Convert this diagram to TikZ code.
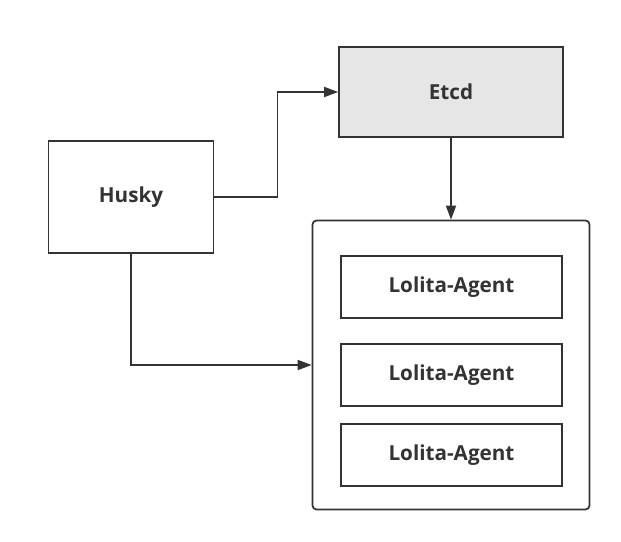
\documentclass[tikz,border=0pt]{standalone}
\usepackage{fontspec}
\setmainfont{Open Sans}
\usetikzlibrary{arrows.meta}
\definecolor{ink}{HTML}{333333}
\definecolor{etcdgray}{HTML}{E6E6E6}
\newcommand{\drawagents}[1] {
    \foreach \n/\y in #1 {
      \node[box, lbl, minimum width=165.75pt, minimum height=46.5pt] (agent\n) at (451.5,\y) {Lolita-Agent};
    }
}

\begin{document}
\begin{tikzpicture}[x=0.75pt, y=-0.75pt, line width=1.3pt,
    box/.style={draw=ink, inner sep=0pt},
    lbl/.style={text=ink, font=\bfseries\fontsize{15.5}{18}\selectfont},
    arr/.style={draw=ink, -{Triangle[length=10.5pt, width=7.5pt]}}]
    \useasboundingbox (0,0) rectangle (621,542);
    % boxes
    \node[box, lbl, fill=etcdgray, minimum width=168pt, minimum height=67.5pt] (etcd) at (451,92) {Etcd};
    \node[box, lbl, minimum width=123.75pt, minimum height=84pt] (husky) at (131,197) {Husky};
    \node[box, rounded corners=3pt, minimum width=207.75pt, minimum height=216.75pt] (pool) at (451,365) {};
    \drawagents{{1/287, 2/375, 3/455}}
    % connectors
    \draw[arr] (husky.east) -- ++(63,0) |- (etcd.west);
    \draw[arr] (etcd.south) -- (pool.north);
    \draw[arr] (husky.south) |- (pool.west);
\end{tikzpicture}
\end{document}
